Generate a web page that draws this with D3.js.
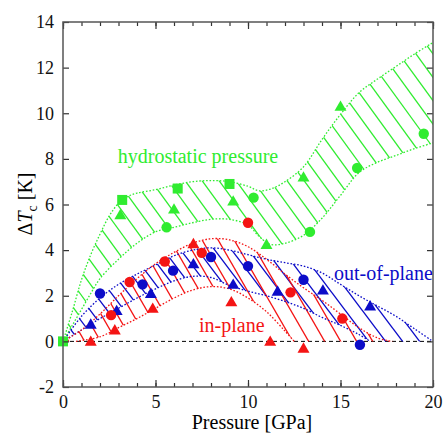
<!DOCTYPE html>
<head>
  <meta charset="utf-8">
  <script src="https://d3js.org/d3.v7.min.js"></script>
  <style>
    body { margin:0; background:#fff; }
    svg text { font-family: "Liberation Serif", "Tinos", "Nimbus Roman", "DejaVu Serif", serif; }
    .axis path.domain { display: none; }
    .axis line { stroke: #333; stroke-width: 1.2; }
    .axis text { font-size: 18px; fill: #111; }
    .frame { fill: none; stroke: #555; stroke-width: 1.5; }
    .zero-line { stroke: #000; stroke-width: 1; stroke-dasharray: 4,3; }
    .edge { fill: none; stroke-width: 1.3; stroke-dasharray: 1.6,1.8; }
    .hatch line { stroke-width: 1.3; }
    .band-label { font-size: 20px; }
  </style>
</head>

<body>
  <script>
    // ---- data ----
    var xTicksMajor = [0, 5, 10, 15, 20];
    var xTicksMinor = d3.range(0, 21, 1);
    var yTicksMajor = [-2, 0, 2, 4, 6, 8, 10, 12, 14];

    // band edges [pressure, dTc]
    var greenUpper = [[0,0],[0.5,1.3],[1,2.7],[1.5,3.8],[2,4.7],[2.5,5.5],[3,6.05],[3.5,6.35],[4,6.5],[5,6.65],[6,6.85],[7,7.0],[8,7.05],[9,7.0],[10,6.8],[10.6,6.6],[11.3,6.7],[12,7.0],[13,7.65],[14,8.85],[15,9.95],[16,10.9],[17,11.5],[18,12.05],[19,12.6],[20,13.1]];
    var greenLower = [[0,0],[0.5,0.7],[1,1.4],[1.5,2.1],[2,2.75],[3,3.6],[4,4.3],[5,4.8],[6,5.0],[7,5.2],[8,5.35],[9,5.35],[10,5.1],[10.6,4.6],[11.2,4.25],[12,4.3],[13,4.65],[14,5.4],[15,6.4],[16,7.4],[17,7.85],[18,8.15],[19,8.45],[20,8.7]];
    var blueUpper = [[0,0],[1,1.1],[2,1.9],[3,2.5],[4,2.95],[5,3.35],[6,3.75],[7,4.0],[8,4.1],[9,4.0],[10,3.8],[11,3.6],[12,3.45],[13,3.3],[14,3.0],[15,2.5],[16,2.0],[17,1.55],[18,1.1],[19,0.55],[20,0]];
    var blueLower = [[0,0],[1,0.5],[2,1.0],[3,1.45],[4,1.9],[5,2.3],[6,2.65],[7,2.85],[8,2.8],[9,2.45],[10,2.2],[11,2.0],[12,1.75],[13,1.45],[14,1.05],[15,0.7],[16,0.3],[16.6,0]];
    var redUpper = [[0,0],[1,0.5],[2,1.2],[3,2.0],[4,2.75],[5,3.4],[6,3.9],[7,4.3],[8,4.5],[9,4.45],[10,4.15],[11,3.6],[12,2.95],[13,2.35],[14,1.8],[15,1.2],[16,0.6],[17,0.15],[17.8,0]];
    var redLower = [[0.7,0],[2,0.2],[3,0.6],[4,1.0],[5,1.45],[6,1.9],[7,2.25],[8,2.4],[9,2.3],[10,1.9],[11,1.3],[12,0.45],[12.5,0]];

    // measured points [pressure, dTc]
    var greenSquares = [[0,0],[3.2,6.2],[6.2,6.7],[9.0,6.9]];
    var greenTriangles = [[3.1,5.55],[6.0,5.8],[9.2,6.15],[11.0,4.25],[13.0,7.2],[15.0,10.3]];
    var greenCircles = [[5.6,5.0],[10.3,6.3],[13.35,4.8],[15.9,7.6],[19.5,9.1]];
    var blueTriangles = [[1.5,0.75],[2.9,1.35],[4.75,2.1],[7.05,3.4],[9.2,2.5],[11.6,2.2],[14.05,2.25],[16.6,1.55]];
    var blueCircles = [[2.0,2.1],[4.3,2.5],[5.95,3.1],[8.0,3.7],[10.0,3.3],[13.0,2.7],[16.05,-0.15]];
    var redTriangles = [[1.5,0],[2.8,0.5],[4.85,1.45],[7.05,4.28],[9.1,1.73],[11.2,0],[13.0,-0.3]];
    var redCircles = [[2.6,1.15],[3.6,2.6],[5.5,3.5],[7.5,3.88],[10.0,5.2],[12.3,2.15],[15.1,1.0]];

    var green = "#30ec30", blue = "#0c0cc8", red = "#f41414";
    var serif = "'Liberation Serif', Tinos, 'Nimbus Roman', 'DejaVu Serif', serif";

    var width = 443, height = 433;
    var plot = {left: 63, right: 433, top: 22, bottom: 387};

    var svg = d3.select("body").append("svg")
      .attr("width", width)
      .attr("height", height)
      .style("font-family", serif);

    var x = d3.scaleLinear().domain([0, 20]).range([plot.left, plot.right]);
    var y = d3.scaleLinear().domain([-2, 14]).range([plot.bottom, plot.top]);

    var line = d3.line()
      .x(d => x(d[0]))
      .y(d => y(d[1]))
      .curve(d3.curveCatmullRom.alpha(0.5));

    var defs = svg.append("defs");
    defs.append("clipPath").attr("id", "plot-clip")
      .append("rect")
        .attr("x", plot.left).attr("y", plot.top)
        .attr("width", plot.right - plot.left).attr("height", plot.bottom - plot.top);

    var bands = [
      {name: "green", upper: greenUpper, lower: greenLower, colour: green, angle: 54, gap: 17},
      {name: "blue", upper: blueUpper, lower: blueLower, colour: blue, angle: 53, gap: 17},
      {name: "red", upper: redUpper, lower: redLower, colour: red, angle: 60, gap: 16}
    ];

    // zero line
    svg.append("line")
      .attr("class", "zero-line")
      .attr("x1", x(0)).attr("x2", x(20))
      .attr("y1", y(0)).attr("y2", y(0));

    var chart = svg.append("g").attr("clip-path", "url(#plot-clip)");

    bands.forEach(function(b) {
      // closed outline: upper edge then lower edge reversed
      var d = line(b.upper) + line(b.lower.slice().reverse()).replace(/^M/, "L") + "Z";
      defs.append("clipPath").attr("id", "clip-" + b.name)
        .append("path").attr("d", d);

      // hatch lines, running from upper left to lower right
      var t = b.angle * Math.PI / 180;
      var run = (plot.bottom - plot.top) / Math.tan(t);
      var g = chart.append("g")
        .attr("class", "hatch")
        .attr("clip-path", "url(#clip-" + b.name + ")");
      g.selectAll("line")
        .data(d3.range(plot.left - run, plot.right + 5, b.gap))
        .enter().append("line")
          .attr("x1", d => d)
          .attr("y1", plot.top)
          .attr("x2", d => d + run)
          .attr("y2", plot.bottom)
          .style("stroke", b.colour);
    });

    bands.forEach(function(b) {
      [b.upper, b.lower].forEach(function(edge) {
        chart.append("path")
          .attr("class", "edge")
          .attr("d", line(edge))
          .style("stroke", b.colour);
      });
    });

    // markers
    var tri = d3.symbol().type(d3.symbolTriangle).size(62);
    function triangles(data, colour) {
      svg.append("g").selectAll("path")
        .data(data)
        .enter().append("path")
          .attr("d", tri)
          .attr("transform", d => "translate(" + x(d[0]) + "," + (y(d[1]) + 1) + ")")
          .style("fill", colour);
    }
    function circles(data, colour) {
      svg.append("g").selectAll("circle")
        .data(data)
        .enter().append("circle")
          .attr("cx", d => x(d[0]))
          .attr("cy", d => y(d[1]))
          .attr("r", 5.2)
          .style("fill", colour);
    }
    function squares(data, colour) {
      svg.append("g").selectAll("rect")
        .data(data)
        .enter().append("rect")
          .attr("x", d => x(d[0]) - 5)
          .attr("y", d => y(d[1]) - 5)
          .attr("width", 10)
          .attr("height", 10)
          .style("fill", colour);
    }
    circles(greenCircles, green);
    triangles(greenTriangles, green);
    squares(greenSquares, green);
    circles(blueCircles, blue);
    triangles(blueTriangles, blue);
    circles(redCircles, red);
    triangles(redTriangles, red);

    // band labels
    svg.append("text").attr("class", "band-label")
      .attr("x", 198).attr("y", 163).attr("text-anchor", "middle")
      .style("fill", green).text("hydrostatic pressure");
    svg.append("text").attr("class", "band-label")
      .attr("x", 334).attr("y", 280)
      .style("fill", blue).text("out-of-plane");
    svg.append("text").attr("class", "band-label")
      .attr("x", 199).attr("y", 332)
      .style("fill", red).text("in-plane");

    // axes, ticks pointing inward
    function axis(gen, tx, ty) {
      var g = svg.append("g").attr("class", "axis")
        .attr("transform", "translate(" + tx + "," + ty + ")")
        .call(gen);
      g.attr("font-family", null);
      g.selectAll("text").style("font-family", serif);
      return g;
    }
    var plain = d => String(d);   // keep the ASCII hyphen in "-2"
    axis(d3.axisBottom(x).tickValues(xTicksMinor).tickSize(-4).tickFormat(""), 0, plot.bottom);
    axis(d3.axisBottom(x).tickValues(xTicksMajor).tickSize(-7).tickPadding(8).tickFormat(plain), 0, plot.bottom);
    axis(d3.axisTop(x).tickValues(xTicksMinor).tickSize(-4).tickFormat(""), 0, plot.top);
    axis(d3.axisTop(x).tickValues(xTicksMajor).tickSize(-7).tickFormat(""), 0, plot.top);
    axis(d3.axisLeft(y).tickValues(yTicksMajor).tickSize(-6).tickPadding(9).tickFormat(plain), plot.left, 0);
    axis(d3.axisRight(y).tickValues(yTicksMajor).tickSize(-6).tickFormat(""), plot.right, 0);

    svg.append("rect").attr("class", "frame")
      .attr("x", plot.left).attr("y", plot.top)
      .attr("width", plot.right - plot.left).attr("height", plot.bottom - plot.top);

    // axis titles
    svg.append("text")
      .attr("x", 252).attr("y", 429)
      .attr("text-anchor", "middle")
      .style("font-size", "20px")
      .text("Pressure [GPa]");

    var yTitle = svg.append("text")
      .attr("transform", "translate(32,204) rotate(-90)")
      .attr("text-anchor", "middle")
      .style("font-size", "20px");
    yTitle.append("tspan").text("\u0394");
    yTitle.append("tspan").style("font-style", "italic").text("T");
    yTitle.append("tspan").attr("dy", 5).style("font-size", "14px").text("c");
    yTitle.append("tspan").attr("dy", -5).text(" [K]");
  </script>
</body>
